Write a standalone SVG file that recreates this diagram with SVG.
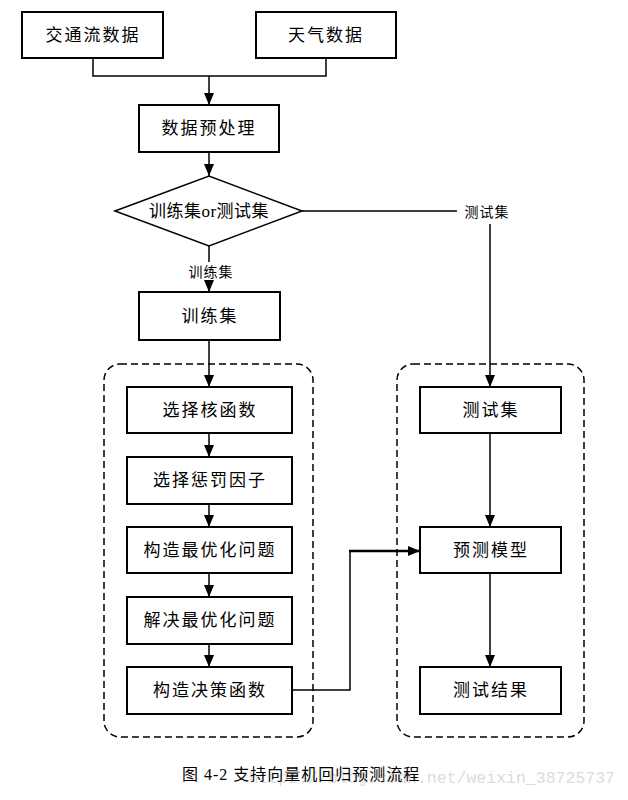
<svg xmlns="http://www.w3.org/2000/svg" width="628" height="800" viewBox="0 0 628 800">
<style>
.box{fill:#fff;stroke:#000;stroke-width:2}
.t{font-family:"Liberation Serif","Noto Sans CJK SC",serif;font-size:17px;letter-spacing:2px;text-anchor:middle;dominant-baseline:central;fill:#000}
.lbl{font-family:"Noto Sans CJK SC",sans-serif;font-size:14px;letter-spacing:1px;text-anchor:middle;dominant-baseline:central;fill:#000}
.ln{fill:none;stroke:#000;stroke-width:1.5}
.dash{fill:none;stroke:#000;stroke-width:1.5;stroke-dasharray:7,4}
</style>
<defs>
<marker id="ah" markerUnits="userSpaceOnUse" markerWidth="12" markerHeight="12" viewBox="0 0 12 12" refX="12" refY="6" orient="auto">
<path d="M0,1 L12,6 L0,11 Z" fill="#000"/>
</marker>
</defs>
<rect width="628" height="800" fill="#fff"/>
<g id="groups">
<rect id="train-group" class="dash" x="104" y="364" width="209" height="373" rx="16"/>
<rect id="test-group" class="dash" x="397" y="364" width="187" height="373" rx="16"/>
</g>
<g id="connectors">
<path class="ln" d="M93,58 V76 H326 V58"/>
<path class="ln" d="M209,76 V105" marker-end="url(#ah)"/>
<path class="ln" d="M209,152 V176" marker-end="url(#ah)"/>
<path class="ln" d="M209,246 V262"/>
<path class="ln" d="M209,281 V292" marker-end="url(#ah)"/>
<path class="ln" d="M302,211 H457"/>
<path class="ln" d="M490,224 V387" marker-end="url(#ah)"/>
<path class="ln" d="M209,340 V387" marker-end="url(#ah)"/>
<path class="ln" d="M209,433 V457" marker-end="url(#ah)"/>
<path class="ln" d="M209,504 V527" marker-end="url(#ah)"/>
<path class="ln" d="M209,573 V597" marker-end="url(#ah)"/>
<path class="ln" d="M209,644 V667" marker-end="url(#ah)"/>
<path class="ln" d="M292,690 H350 V551"/>
<path class="ln" style="stroke-width:2.5" d="M349,551 H420" marker-end="url(#ah)"/>
<path class="ln" d="M490,433 V527" marker-end="url(#ah)"/>
<path class="ln" d="M490,573 V667" marker-end="url(#ah)"/>
<text class="lbl" x="211" y="271">训练集</text>
<text class="lbl" x="487" y="211">测试集</text>
</g>
<g id="n-traffic"><rect class="box" x="22" y="12" width="141" height="46"/><text class="t" x="93" y="35">交通流数据</text></g>
<g id="n-weather"><rect class="box" x="256" y="12" width="140" height="46"/><text class="t" x="326" y="35">天气数据</text></g>
<g id="n-preprocess"><rect class="box" x="139" y="105" width="140" height="47"/><text class="t" x="209" y="128">数据预处理</text></g>
<g id="n-decision"><path d="M115,211 L209,176 L302,211 L209,246 Z" fill="#fff" stroke="#000" stroke-width="1.5"/><text class="t" x="209" y="211" style="letter-spacing:0.5px">训练集or测试集</text></g>
<g id="n-trainset"><rect class="box" x="139" y="292" width="141" height="48"/><text class="t" x="210" y="316">训练集</text></g>
<g id="n-kernel"><rect class="box" x="127" y="387" width="165" height="46"/><text class="t" x="210" y="410">选择核函数</text></g>
<g id="n-penalty"><rect class="box" x="127" y="457" width="165" height="47"/><text class="t" x="210" y="480">选择惩罚因子</text></g>
<g id="n-build-opt"><rect class="box" x="127" y="527" width="165" height="46"/><text class="t" x="210" y="550">构造最优化问题</text></g>
<g id="n-solve-opt"><rect class="box" x="127" y="597" width="165" height="47"/><text class="t" x="210" y="620">解决最优化问题</text></g>
<g id="n-decfunc"><rect class="box" x="127" y="667" width="165" height="47"/><text class="t" x="210" y="690">构造决策函数</text></g>
<g id="n-testset"><rect class="box" x="420" y="387" width="141" height="46"/><text class="t" x="491" y="410">测试集</text></g>
<g id="n-model"><rect class="box" x="420" y="527" width="141" height="46"/><text class="t" x="491" y="550">预测模型</text></g>
<g id="n-result"><rect class="box" x="420" y="667" width="141" height="47"/><text class="t" x="491" y="690">测试结果</text></g>
<g id="caption">
<text x="615" y="783" text-anchor="end" style="font-family:'Liberation Mono',monospace;font-size:16.5px;fill:#dcdcdc">https://blog.csdn.net/weixin_38725737</text>
<text x="182" y="780" style="font-family:'Liberation Serif','Noto Sans CJK SC',serif;font-size:16px;fill:#000;letter-spacing:1px">图 4-2 支持向量机回归预测流程</text>
</g>
</svg>
